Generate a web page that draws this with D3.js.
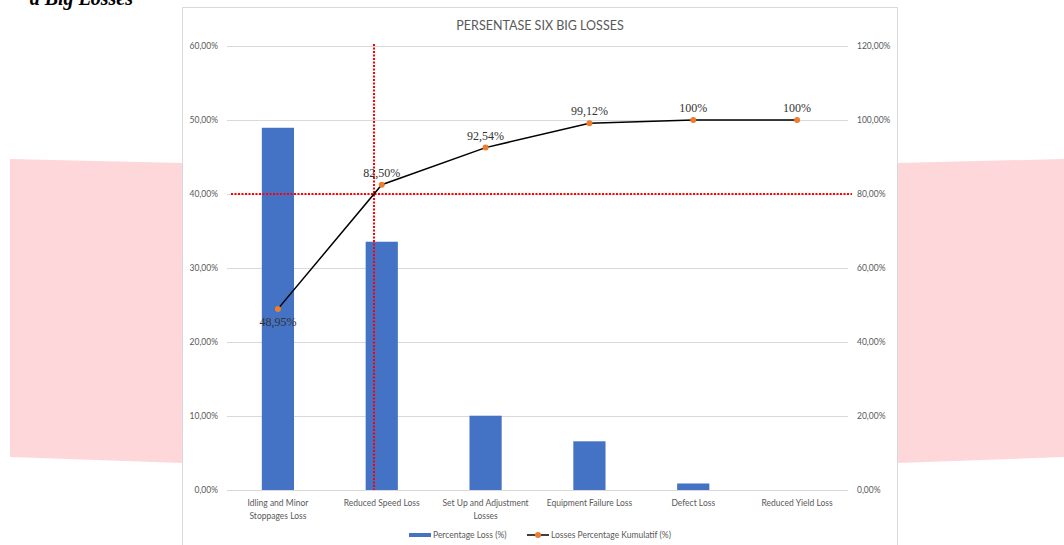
<!DOCTYPE html>
<html>
<head>
<meta charset="utf-8">
<script src="https://cdn.jsdelivr.net/npm/d3@7"></script>
<style>
  body { margin: 0; background: #fff; }
  svg { display: block; }
</style>
</head>
<body>
<svg id="chart"></svg>
<script>
// data
const categories = [
  "Idling and Minor Stoppages Loss",
  "Reduced Speed Loss",
  "Set Up and Adjustment Losses",
  "Equipment Failure Loss",
  "Defect Loss",
  "Reduced Yield Loss"
];
const categoryLines = [
  ["Idling and Minor", "Stoppages Loss"],
  ["Reduced Speed Loss"],
  ["Set Up and Adjustment", "Losses"],
  ["Equipment Failure Loss"],
  ["Defect Loss"],
  ["Reduced Yield Loss"]
];
const percentageLoss = [48.95, 33.55, 10.04, 6.58, 0.88, 0];
const cumulative = [48.95, 82.50, 92.54, 99.12, 100, 100];
const cumulativeLabels = ["48,95%", "82,50%", "92,54%", "99,12%", "100%", "100%"];
const leftTicks = [0, 10, 20, 30, 40, 50, 60];
const rightTicks = [0, 20, 40, 60, 80, 100, 120];
const threshold = 80;

const width = 1064;
const height = 545;
const sansFont = "Lato, 'Liberation Sans', sans-serif";
const serifFont = "'Liberation Serif', 'DejaVu Serif', serif";
const grey = "#595959";

const svg = d3.select("#chart")
  .attr("width", width)
  .attr("height", height);

// pink background strips behind the chart frame
svg.append("polygon")
  .attr("points", "10,159 183,163 183,463 10,457")
  .attr("fill", "#fed7da");
svg.append("polygon")
  .attr("points", "897,163 1064,159 1064,457 897,463")
  .attr("fill", "#fed7da");

// caption cut off at the top of the page (as in the source)
svg.append("text")
  .attr("x", 133)
  .attr("y", 5)
  .attr("text-anchor", "end")
  .style("font-family", serifFont)
  .style("font-weight", "bold")
  .style("font-style", "italic")
  .style("font-size", "20px")
  .attr("fill", "#000")
  .text("a Big Losses");

// chart frame
svg.append("rect")
  .attr("x", 182.5)
  .attr("y", 7.5)
  .attr("width", 715)
  .attr("height", 560)
  .attr("fill", "#fff")
  .attr("stroke", "#d9d9d9");

svg.append("text")
  .attr("x", 540)
  .attr("y", 30)
  .attr("text-anchor", "middle")
  .style("font-family", sansFont)
  .style("font-size", "12.5px")
  .attr("fill", grey)
  .text("PERSENTASE SIX BIG LOSSES");

const x = d3.scaleBand()
  .domain(categories)
  .range([226, 849])
  .paddingInner(0.69)
  .paddingOuter(0.345);
const cx = c => x(c) + x.bandwidth() / 2;

const yLeft = d3.scaleLinear().domain([0, 60]).range([490, 46]);
const yRight = d3.scaleLinear().domain([0, 120]).range([490, 46]);
const fmt = v => d3.format(".2f")(v).replace(".", ",") + "%";

// gridlines
svg.append("g")
  .selectAll("line")
  .data(leftTicks)
  .enter()
  .append("line")
  .attr("x1", 227)
  .attr("x2", 848)
  .attr("y1", d => Math.round(yLeft(d)) + 0.5)
  .attr("y2", d => Math.round(yLeft(d)) + 0.5)
  .attr("stroke", "#d9d9d9");

// left axis labels
svg.append("g")
  .selectAll("text")
  .data(leftTicks)
  .enter()
  .append("text")
  .attr("x", 218)
  .attr("y", d => yLeft(d) + 3)
  .attr("text-anchor", "end")
  .style("font-family", sansFont)
  .style("font-size", "8.5px")
  .attr("fill", grey)
  .text(fmt);

// right axis labels
svg.append("g")
  .selectAll("text")
  .data(rightTicks)
  .enter()
  .append("text")
  .attr("x", 857)
  .attr("y", d => yRight(d) + 3)
  .style("font-family", sansFont)
  .style("font-size", "8.5px")
  .attr("fill", grey)
  .text(fmt);

// bars
svg.append("g")
  .selectAll("rect")
  .data(categories)
  .enter()
  .append("rect")
  .attr("x", d => x(d))
  .attr("width", x.bandwidth())
  .attr("y", (d, i) => yLeft(percentageLoss[i]))
  .attr("height", (d, i) => yLeft(0) - yLeft(percentageLoss[i]))
  .attr("fill", "#4472c4");

// category labels
const xl = svg.append("g")
  .selectAll("text")
  .data(categories)
  .enter()
  .append("text")
  .attr("text-anchor", "middle")
  .style("font-family", sansFont)
  .style("font-size", "8.5px")
  .attr("fill", grey);
xl.each(function (d, i) {
  d3.select(this).selectAll("tspan")
    .data(categoryLines[i])
    .enter()
    .append("tspan")
    .attr("x", cx(d))
    .attr("y", (t, j) => 506 + j * 13)
    .text(t => t);
});

// 80% threshold crossing on the cumulative line
const k = cumulative.findIndex(v => v >= threshold);
const frac = (threshold - cumulative[k - 1]) / (cumulative[k] - cumulative[k - 1]);
const crossX = cx(categories[k - 1]) + frac * (cx(categories[k]) - cx(categories[k - 1]));

svg.append("line")
  .attr("x1", 231)
  .attr("x2", 852)
  .attr("y1", yRight(threshold))
  .attr("y2", yRight(threshold))
  .attr("stroke", "#ff0000")
  .attr("stroke-width", 2)
  .attr("stroke-dasharray", "2,1.5");
svg.append("line")
  .attr("x1", crossX)
  .attr("x2", crossX)
  .attr("y1", 44)
  .attr("y2", yLeft(0))
  .attr("stroke", "#ff0000")
  .attr("stroke-width", 2)
  .attr("stroke-dasharray", "2,1.5");

// cumulative line
const line = d3.line()
  .x((d, i) => cx(categories[i]))
  .y(d => yRight(d));

svg.append("path")
  .datum(cumulative)
  .attr("d", line)
  .attr("fill", "none")
  .attr("stroke", "#000")
  .attr("stroke-width", 1.5);

svg.append("g")
  .selectAll("circle")
  .data(cumulative)
  .enter()
  .append("circle")
  .attr("cx", (d, i) => cx(categories[i]))
  .attr("cy", d => yRight(d))
  .attr("r", 3)
  .attr("fill", "#ed7d31");

svg.append("g")
  .selectAll("text")
  .data(cumulative)
  .enter()
  .append("text")
  .attr("x", (d, i) => cx(categories[i]))
  .attr("y", (d, i) => i === 0 ? yRight(d) + 17 : yRight(d) - 8)
  .attr("text-anchor", "middle")
  .attr("font-family", serifFont)
  .attr("font-size", 12)
  .attr("fill", "#333333")
  .text((d, i) => cumulativeLabels[i]);

// legend
const legend = svg.append("g").attr("transform", "translate(0,535)");
legend.append("rect")
  .attr("x", 409)
  .attr("y", -2)
  .attr("width", 22)
  .attr("height", 4)
  .attr("fill", "#4472c4");
legend.append("text")
  .attr("x", 433)
  .attr("y", 3)
  .style("font-family", sansFont)
  .style("font-size", "8.5px")
  .attr("fill", grey)
  .text("Percentage Loss (%)");
legend.append("line")
  .attr("x1", 527)
  .attr("x2", 549)
  .attr("y1", 0)
  .attr("y2", 0)
  .attr("stroke", "#000")
  .attr("stroke-width", 1.5);
legend.append("circle")
  .attr("cx", 538)
  .attr("cy", 0)
  .attr("r", 3)
  .attr("fill", "#ed7d31");
legend.append("text")
  .attr("x", 551)
  .attr("y", 3)
  .style("font-family", sansFont)
  .style("font-size", "8.5px")
  .attr("fill", grey)
  .text("Losses Percentage Kumulatif (%)");
</script>
</body>
</html>
